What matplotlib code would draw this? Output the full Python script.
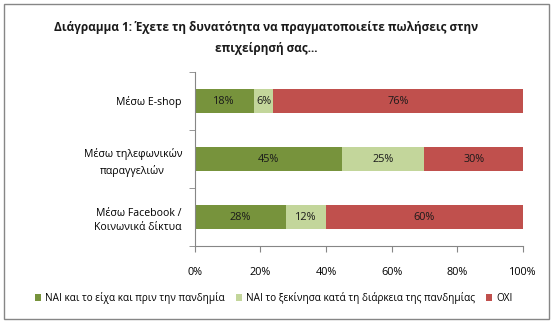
import matplotlib
matplotlib.use("Agg")
import matplotlib.pyplot as plt
from matplotlib.patches import Rectangle
import numpy as np

categories = ["Μέσω E-shop", "Μέσω τηλεφωνικών\nπαραγγελιών", "Μέσω Facebook /\nΚοινωνικά δίκτυα"]
series_names = ["ΝΑΙ και το είχα και πριν την πανδημία",
                "ΝΑΙ το ξεκίνησα κατά τη διάρκεια της πανδημίας",
                "ΟΧΙ"]
yes_before = [18, 45, 28]
yes_during = [6, 25, 12]
no_vals = [76, 30, 60]
xticks = [0, 20, 40, 60, 80, 100]
xticklabels = ["0%", "20%", "40%", "60%", "80%", "100%"]
title = "Διάγραμμα 1: Έχετε τη δυνατότητα να πραγματοποιείτε πωλήσεις στην\nεπιχείρησή σας..."

colors = ["#77933C", "#C3D69B", "#C0504D"]
plt.rcParams['font.family'] = ['Open Sans', 'DejaVu Sans']

W, H = 553, 323
fig = plt.figure(figsize=(W/100, H/100), dpi=100)
ax = fig.add_axes([194.5/W, 1-246/H, (523-194.5)/W, (246-72)/H])

y = np.arange(len(categories))
left = np.zeros(len(categories))
for vals, c, name in zip([yes_before, yes_during, no_vals], colors, series_names):
    ax.barh(y, vals, left=left, height=0.42, color=c, label=name)
    for yi, l, v in zip(y, left, vals):
        ax.text(l + v/2, yi, f"{v}%", ha="center", va="center", fontsize=7.8, color="#1a1a1a")
    left = left + np.array(vals)

ax.set_xlim(0, 100)
ax.set_ylim(len(categories)-0.5, -0.5)
ax.set_xticks(xticks)
ax.set_xticklabels(xticklabels, fontsize=7.8)
ax.set_yticks(y)
ax.set_yticklabels(categories, fontsize=7.6, multialignment="center", linespacing=1.5)
ax.set_yticks(np.arange(len(categories)+1)-0.5, minor=True)
ax.tick_params(axis='y', which='major', length=0, pad=9)
ax.tick_params(axis='y', which='minor', length=4, color="#868686", direction='out')
ax.tick_params(axis='x', length=4, color="#868686", pad=11)
for s in ["top", "right"]:
    ax.spines[s].set_visible(False)
for s in ["left", "bottom"]:
    ax.spines[s].set_color("#868686")
    ax.spines[s].set_linewidth(0.8)

fig.text(266/W, 1-38/H, title, ha="center", va="center", fontsize=8.5, fontweight="bold",
         linespacing=1.8, color="#1a1a1a")

handles, labels = ax.get_legend_handles_labels()
fig.legend(handles, labels, loc="center", bbox_to_anchor=(274/W, 1-298/H), ncol=3,
           frameon=False, fontsize=7.2, handlelength=0.6, handleheight=0.6,
           handletextpad=0.4, columnspacing=1.1)

fig.patches.append(Rectangle((4/W, 4/H), (549-4)/W, (319-4)/H, transform=fig.transFigure,
                             fill=False, edgecolor="#868686", linewidth=1))
fig.savefig("out.png", dpi=100, facecolor="white")
